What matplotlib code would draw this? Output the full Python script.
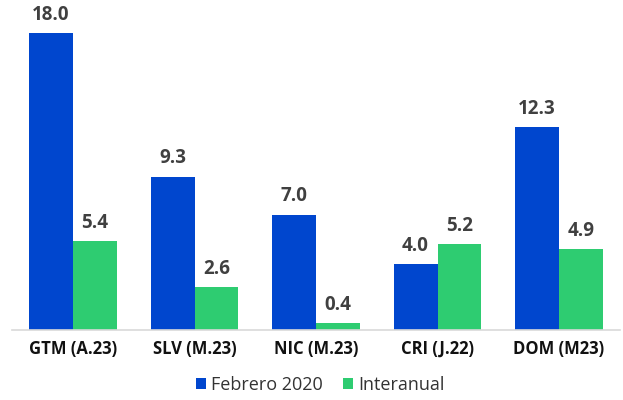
import matplotlib
matplotlib.use("Agg")
import matplotlib.pyplot as plt
import numpy as np

categories = ["GTM (A.23)", "SLV (M.23)", "NIC (M.23)", "CRI (J.22)", "DOM (M23)"]
febrero_2020 = [18.0, 9.3, 7.0, 4.0, 12.3]
interanual = [5.4, 2.6, 0.4, 5.2, 4.9]
series_names = ["Febrero 2020", "Interanual"]

plt.rcParams["font.family"] = ["Open Sans", "DejaVu Sans"]

blue = "#0046CE"
green = "#2ECC71"

fig = plt.figure(figsize=(6.23, 4.0), dpi=100)
ax = fig.add_axes([12.25 / 623, 70 / 400, 607.5 / 623, 330 / 400])

x = np.arange(len(categories))
w = 0.362
b1 = ax.bar(x - w / 2, febrero_2020, w, color=blue, label=series_names[0])
b2 = ax.bar(x + w / 2, interanual, w, color=green, label=series_names[1])

for bars, vals in ((b1, febrero_2020), (b2, interanual)):
    for rect, v in zip(bars, vals):
        ax.text(rect.get_x() + rect.get_width() / 2, v + 0.5, f"{v:.1f}",
                ha="center", va="bottom", fontsize=13.5, fontweight="bold",
                color="#404040", clip_on=False)

ax.set_xlim(-0.5, len(categories) - 0.5)
ax.set_ylim(0, 20)
ax.set_yticks([])
ax.set_xticks(x)
ax.set_xticklabels(categories, fontsize=12, fontweight="bold", color="#111111")
ax.tick_params(axis="x", length=0, pad=7)
for s in ("top", "right", "left"):
    ax.spines[s].set_visible(False)
ax.spines["bottom"].set_color("#D9D9D9")
ax.spines["bottom"].set_linewidth(1.2)

fig.legend(handles=[b1, b2], labels=series_names, loc="center",
           bbox_to_anchor=(320 / 623, 1 - 385 / 400), ncol=2, frameon=False,
           fontsize=13, handlelength=0.6, handleheight=0.6, handletextpad=0.25,
           columnspacing=1.1, labelcolor="#333333")

fig.savefig("out.png", dpi=100)
